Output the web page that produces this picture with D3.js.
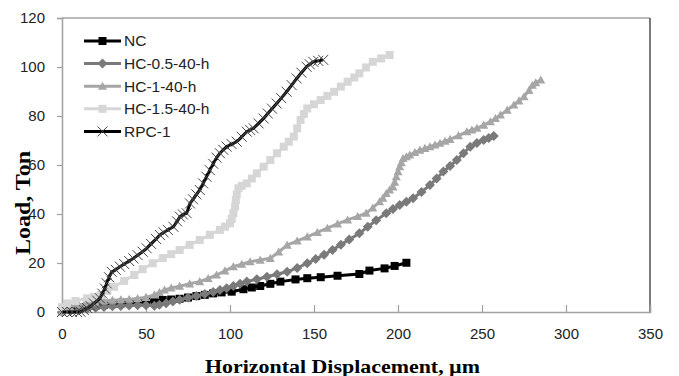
<!DOCTYPE html>
<html>
<head>
<meta charset="utf-8">
<script src="https://cdn.jsdelivr.net/npm/d3@7"></script>
<style>
  body { margin: 0; background: #fff; }
  svg { display: block; }
</style>
</head>
<body>
<div id="visualization"></div>
<script>
// data (x = displacement in µm, y = load in ton)
var seriesNames = ["NC", "HC-0.5-40-h", "HC-1-40-h", "HC-1.5-40-h", "RPC-1"];
var xTicks = [0, 50, 100, 150, 200, 250, 300, 350];
var yTicks = [0, 20, 40, 60, 80, 100, 120];

var nc = [[0,1],[5,1.4],[10,1.8],[15,2.2],[20,2.6],[25,2.9],[30,3.2],[35,3.5],[40,3.8],[45,4.1],[50,4.4],[55,4.6],[60,4.9],[65,5.1],[70,5.4],[75,5.9],[80,6.5],[85,7],[90,7.6],[95,8],[101,8.3],[108,9.3],[113,10],[118,10.6],[124,11.5],[130,12.4],[139,13.3],[146,13.8],[154,14.2],[164,14.8],[177,15.5],[183,16.9],[192,17.8],[198,18.8],[205,20.1]];

var hc05 = [[0,0],[5,0.3],[10,0.8],[15,1.3],[20,1.7],[25,2],[30,2.3],[35,2.5],[40,2.7],[45,2.8],[50,2.8],[55,2.6],[58,3],[62,3.6],[66,4.3],[70,5],[75,5.8],[80,6.5],[85,7.3],[90,8.2],[94,9],[98,9.7],[102,10.6],[106,11.5],[110,12.4],[116,13.4],[122,14.4],[128,15.4],[134,16.4],[140,18],[146,19.9],[151,21.6],[156,23.4],[161,25.3],[166,27.5],[171,29.6],[177,32.1],[182,34.8],[187,37.4],[193,40.3],[197,42],[201,43.7],[205,45],[209,46.4],[214,49],[219,51.8],[223,54.5],[227,57.3],[231,59.6],[235,62],[239,64.8],[243,67.5],[247,69],[251,70.2],[254,71],[257,71.8]];

var hc1 = [[0,0],[5,2],[10,3],[15,3.5],[20,4],[25,4.5],[30,4.8],[35,5],[40,5.2],[45,5.5],[50,6],[55,7],[58,8],[61,9],[65,9.8],[70,10.5],[76,11.5],[82,12.4],[87,13.7],[92,15.1],[97,16.8],[102,18.5],[107,19.5],[112,20.5],[118,21.2],[124,21.9],[129,24.5],[134,27.3],[140,29],[146,30.7],[152,32.5],[158,34.2],[164,36],[170,37.6],[176,39],[181,40.3],[185,42.5],[189,45],[191,46.5],[193,48.4],[195,49.8],[197,51.1],[198,53],[199,55.2],[200,57.3],[201,59.3],[202,61],[203,62.7],[205,63.4],[207,64.1],[210,65.1],[213,66.1],[216,66.8],[219,67.5],[222,68.2],[225,68.9],[228,69.7],[231,70.5],[236,72],[241,73.6],[244,74.3],[247,75],[251,76.3],[255,77.7],[258,79],[261,80.4],[265,82.4],[269,84.5],[272,86.2],[275,87.9],[278,90.5],[280,92.6],[282,93.6],[285,94.7]];

var hc15 = [[0,2],[3,3.5],[8,4.5],[15,5.6],[19,6.2],[23,6.9],[27,8.6],[31,10.3],[37,12.7],[43,15.1],[48,17.5],[54,19.9],[60,22],[65,23.6],[70,25.3],[76,27.4],[82,29.4],[88,31.5],[94,33.5],[97,34.8],[100,36.2],[101,38],[102,40.3],[103,43],[103.5,45.7],[104,48],[105,50.5],[107,51.5],[110,52.5],[113,54.5],[116,56.6],[120,59.3],[124,62],[128,64.8],[132,67.5],[135,69.5],[138,71.6],[140,75],[142,78.4],[144,80.8],[146,83.1],[150,84.8],[154,86.5],[158,88.2],[162,89.9],[166,92],[170,94],[174,95.7],[177,97.4],[181,99.8],[185,102.1],[190,103.5],[195,104.9]];

var rpc1 = [[0,0],[3,0],[6,0],[9,0],[11,0.1],[13,0.8],[15,1.6],[17,2.4],[19,3.5],[21,4.6],[22.6,5.6],[24,7.5],[25.5,9.6],[26.6,11.7],[28,14.2],[29.6,16.4],[32,17.2],[34.5,18.5],[37,19.6],[40,20.8],[42.5,21.9],[45,23.2],[48,24.6],[50.4,26],[53,27.8],[56,29.8],[58.3,31.4],[60.5,32.5],[63,33.5],[66.3,34.8],[68.5,37],[70.2,38.9],[72,39.8],[74.2,40.3],[76.2,44.3],[78,46],[80,48],[82,49.8],[84,52.5],[86,55.2],[88,57.9],[90,60.5],[92,63],[94,64.8],[96,66.2],[98,67.5],[101,68.5],[104,69.5],[107,71.5],[110,73.6],[112,74.3],[114,75],[117,77],[120,79],[122.5,81],[125,83],[127.8,85.1],[130.5,87.3],[133.7,89.9],[136.7,92.6],[139.7,95.3],[142.5,97.7],[145.6,100.1],[147.5,101.1],[149.6,102.1],[152.5,102.5],[155.5,102.9]];

var allData = [nc, hc05, hc1, hc15, rpc1];

var width = 679, height = 376;
var margin = { top: 18, right: 29, bottom: 64, left: 62 };
var w = width - margin.left - margin.right;
var h = height - margin.top - margin.bottom;

// style per series (same order as seriesNames)
var styles = [
  { color: "#000000", marker: "square", size: 8, fill: "#000000" },
  { color: "#7a7a7a", marker: "diamond", size: 10, fill: "#7a7a7a" },
  { color: "#a6a6a6", marker: "triangle", size: 9, fill: "#a6a6a6" },
  { color: "#d6d6d6", marker: "square", size: 8, fill: "#d6d6d6" },
  { color: "#000000", marker: "x", size: 10, fill: "none" }
];

function markerPath(type, s) {
  var r = s / 2;
  if (type == "square") return "M" + (-r) + "," + (-r) + "h" + s + "v" + s + "h" + (-s) + "Z";
  if (type == "diamond") return "M0," + (-r) + "L" + r + ",0L0," + r + "L" + (-r) + ",0Z";
  if (type == "triangle") return "M0," + (-r) + "L" + r + "," + (r * 0.8) + "L" + (-r) + "," + (r * 0.8) + "Z";
  return "M" + (-r) + "," + (-r) + "L" + r + "," + r + "M" + (-r) + "," + r + "L" + r + "," + (-r);
}

var svg = d3.select("#visualization")
  .append("svg")
  .attr("width", width)
  .attr("height", height);

var g = svg.append("g")
  .attr("transform", "translate(" + margin.left + "," + margin.top + ")");

var xScale = d3.scaleLinear().domain([0, 350]).range([0, w]);
var yScale = d3.scaleLinear().domain([0, 120]).range([h, 0]);

// frame: top and right borders
g.append("line").attr("x1", 0).attr("x2", w).attr("y1", 0).attr("y2", 0)
  .attr("stroke", "#777").attr("stroke-width", 1.2);
g.append("line").attr("x1", w).attr("x2", w).attr("y1", 0).attr("y2", h)
  .attr("stroke", "#222").attr("stroke-width", 1.2);

// x axis, ticks pointing inward
var xAxis = g.append("g")
  .attr("transform", "translate(0," + h + ")")
  .call(d3.axisBottom(xScale).tickValues(xTicks).tickSize(-7).tickPadding(16));
xAxis.select(".domain").attr("stroke", "#a0a0a0").attr("stroke-width", 1.5);
xAxis.selectAll(".tick line").attr("stroke", "#a0a0a0").attr("stroke-width", 1.2);
xAxis.selectAll(".tick text")
  .attr("fill", "#222")
  .style("font-family", "'Liberation Sans', Arial, sans-serif")
  .style("font-size", "15px");

// y axis
var yAxis = g.append("g")
  .call(d3.axisLeft(yScale).tickValues(yTicks).tickSize(5).tickPadding(12));
yAxis.select(".domain").attr("stroke", "#a0a0a0").attr("stroke-width", 1.5);
yAxis.selectAll(".tick line").attr("stroke", "#a0a0a0").attr("stroke-width", 1.2);
yAxis.selectAll(".tick text")
  .attr("fill", "#222")
  .style("font-family", "'Liberation Sans', Arial, sans-serif")
  .style("font-size", "15px");

var line = d3.line()
  .x(function (d) { return xScale(d[0]); })
  .y(function (d) { return yScale(d[1]); });

// series, drawn in legend order so RPC-1 ends up on top
allData.forEach(function (data, i) {
  var st = styles[i];
  var s = g.append("g");
  s.append("path")
    .datum(data)
    .attr("d", line)
    .attr("fill", "none")
    .attr("stroke", st.color)
    .attr("stroke-width", 3)
    .attr("stroke-linejoin", "round");
  s.selectAll(".m")
    .data(data)
    .enter()
    .append("path")
    .attr("transform", function (d) { return "translate(" + xScale(d[0]) + "," + yScale(d[1]) + ")"; })
    .attr("d", markerPath(st.marker, st.size))
    .attr("fill", st.fill)
    .attr("stroke", st.marker == "x" ? "#444" : "none")
    .attr("stroke-width", 1);
});

// legend
var legend = svg.append("g").attr("transform", "translate(84,41)");
seriesNames.forEach(function (name, i) {
  var st = styles[i];
  var row = legend.append("g").attr("transform", "translate(0," + (i * 22.6) + ")");
  row.append("line").attr("x1", 0).attr("x2", 37).attr("y1", 0).attr("y2", 0)
    .attr("stroke", st.color).attr("stroke-width", 3);
  row.append("path")
    .attr("transform", "translate(18.5,0)")
    .attr("d", markerPath(st.marker, st.size))
    .attr("fill", st.fill)
    .attr("stroke", st.marker == "x" ? "#444" : "none");
  row.append("text")
    .attr("x", 40)
    .attr("y", 0)
    .attr("dy", "0.35em")
    .attr("fill", "#222")
    .style("font-family", "'Liberation Sans', Arial, sans-serif")
    .style("font-size", "15.5px")
    .text(name);
});

// axis titles (the reference text is a bit stretched, so fix the length)
svg.append("text")
  .attr("x", 205)
  .attr("y", 373)
  .attr("textLength", 275)
  .attr("lengthAdjust", "spacingAndGlyphs")
  .style("font-family", "'Liberation Serif', 'Times New Roman', serif")
  .style("font-weight", "bold")
  .style("font-size", "19px")
  .text("Horizontal Displacement, µm");

svg.append("text")
  .attr("transform", "translate(30,255) rotate(-90)")
  .attr("textLength", 104)
  .attr("lengthAdjust", "spacingAndGlyphs")
  .style("font-family", "'Liberation Serif', 'Times New Roman', serif")
  .style("font-weight", "bold")
  .style("font-size", "20px")
  .text("Load, Ton");
</script>
</body>
</html>
